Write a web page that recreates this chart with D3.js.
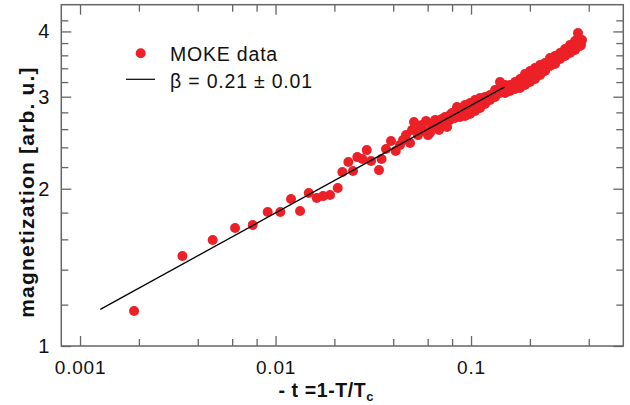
<!DOCTYPE html>
<html>
<head>
<meta charset="utf-8">
<script src="https://cdn.jsdelivr.net/npm/d3@7"></script>
<style>
body { margin: 0; background: #fff; }
text { font-family: "Liberation Sans", Arial, Helvetica, sans-serif; fill: #111; }
</style>
</head>
<body>
<script>
// reduced temperature -t and magnetization
var tData = [
  0.00189, 0.00334, 0.00477, 0.00621, 0.00764, 0.00912, 0.01058, 0.0120, 0.01335, 0.01479,
  0.01625, 0.0175, 0.0190, 0.02081, 0.02197, 0.02358, 0.02491, 0.0262, 0.0278, 0.02928,
  0.0308, 0.03383, 0.03485, 0.03674, 0.03897, 0.04119, 0.04333, 0.04489, 0.0465, 0.04875,
  0.04991, 0.05109, 0.05356, 0.05483, 0.05615, 0.0575, 0.05886, 0.06027, 0.0617, 0.06316,
  0.06392, 0.06546, 0.067, 0.06859, 0.07107, 0.0754, 0.07715, 0.07993, 0.08477,
  // upper edge of the dense band
  0.0694, 0.07362, 0.07808, 0.08283, 0.08784, 0.09318, 0.09883, 0.1048, 0.1112, 0.1179,
  0.1251, 0.1327, 0.1407, 0.1493, 0.1583, 0.1680, 0.1781, 0.1889, 0.2004, 0.2125,
  0.2254, 0.2391, 0.2536, 0.2690, 0.2853, 0.3026, 0.3209, 0.3404, 0.3526,
  // lower edge of the dense band
  0.0694, 0.07362, 0.07808, 0.08283, 0.08784, 0.09318, 0.09883, 0.1048, 0.1112, 0.1179,
  0.1251, 0.1327, 0.1407, 0.1493, 0.1583, 0.1680, 0.1781, 0.1889, 0.2004, 0.2125,
  0.2254, 0.2391, 0.2536, 0.2690, 0.2853, 0.3026, 0.3209, 0.3404, 0.3610,
  // middle of the band
  0.07148, 0.07582, 0.08041, 0.08531, 0.09047, 0.09597, 0.1018, 0.1079, 0.1145, 0.1214,
  0.1288, 0.1367, 0.1449, 0.1538, 0.1630, 0.1730, 0.1834, 0.1945, 0.2064, 0.2189,
  0.2321, 0.2462, 0.2612, 0.2770, 0.2938, 0.3116, 0.3305, 0.3506,
  0.3526, 0.3696, 0.3653
];
var mData = [
  1.167, 1.487, 1.595, 1.682, 1.704, 1.805, 1.805, 1.911, 1.813, 1.962,
  1.920, 1.936, 1.945, 2.006, 2.153, 2.250, 2.162, 2.299, 2.279, 2.371,
  2.260, 2.171, 2.279, 2.382, 2.468, 2.361, 2.424, 2.478, 2.533, 2.446,
  2.590, 2.683, 2.533, 2.613, 2.648, 2.579, 2.695, 2.533, 2.560, 2.625,
  2.671, 2.707, 2.660, 2.590, 2.719, 2.625, 2.731, 2.792, 2.867,
  2.707, 2.743, 2.767, 2.804, 2.854, 2.892, 2.918, 2.956, 2.982, 2.995,
  3.022, 3.090, 3.200, 3.158, 3.158, 3.200, 3.243, 3.316, 3.360, 3.404,
  3.450, 3.481, 3.557, 3.589, 3.637, 3.701, 3.767, 3.834, 3.885,
  2.648, 2.683, 2.707, 2.731, 2.743, 2.755, 2.779, 2.817, 2.854, 2.905,
  2.956, 2.995, 3.049, 3.049, 3.076, 3.104, 3.117, 3.158, 3.200, 3.243,
  3.301, 3.360, 3.436, 3.465, 3.542, 3.589, 3.637, 3.685, 3.751,
  2.69, 2.73, 2.75, 2.78, 2.82, 2.83, 2.87, 2.90, 2.93, 2.97,
  3.02, 3.08, 3.11, 3.10, 3.14, 3.17, 3.21, 3.26, 3.30, 3.35,
  3.40, 3.46, 3.51, 3.56, 3.62, 3.67, 3.73, 3.79,
  3.972, 3.851, 3.767
];

// power law fit, beta = 0.21 (end points)
var fitT = [0.00127, 0.148];
var fitM = [1.175, 3.13];

var xMajor = [0.001, 0.01, 0.1];
var xMinor = [0.002, 0.004, 0.006, 0.008, 0.02, 0.04, 0.06, 0.08, 0.2, 0.4];
var yMajor = [1, 2, 3, 4];
var yMinor = [1.2, 1.4, 1.6, 1.8, 2.2, 2.4, 2.6, 2.8, 3.2, 3.4, 3.6, 3.8, 4.2];
var xTickLabels = ["0.001", "0.01", "0.1"];
var yTickLabels = ["1", "2", "3", "4"];
var legendLabels = ["MOKE data", "\u03B2 = 0.21 \u00B1 0.01"];

var red = "#ec2027";
var frameColor = "#666";

var plotLeft = 61.3, plotRight = 623.3, plotTop = 4.7, plotBottom = 346;

var svg = d3.select("body").append("svg")
  .attr("width", 630)
  .attr("height", 405);

var x = d3.scaleLog().domain([0.000802, 0.601]).range([plotLeft, plotRight]);
var y = d3.scaleLog().domain([1, 4.5]).range([plotBottom, plotTop]);

// ticks point inward on all four sides
function drawAxis(axisFn, scale, values, size, fmt, tx, ty, pad) {
  var g = svg.append("g")
    .attr("transform", "translate(" + tx + "," + ty + ")")
    .call(axisFn(scale).tickValues(values).tickSize(-size).tickPadding(pad)
      .tickFormat(fmt));
  g.select(".domain").remove();
  g.selectAll("line").attr("stroke", frameColor).attr("stroke-width", 1.3);
  return g;
}

var noLabel = function () { return ""; };

var xb = drawAxis(d3.axisBottom, x, xMajor, 10, function (d, i) { return xTickLabels[i]; }, 0, plotBottom, 15);
xb.selectAll("text")
  .style("font-size", "19px")
  .style("letter-spacing", "0.8px")
  .attr("fill", "#111");
drawAxis(d3.axisBottom, x, xMinor, 7, noLabel, 0, plotBottom, 3);
drawAxis(d3.axisTop, x, xMajor, 10, noLabel, 0, plotTop, 3);
drawAxis(d3.axisTop, x, xMinor, 7, noLabel, 0, plotTop, 3);

var yl = drawAxis(d3.axisLeft, y, yMajor, 10, function (d, i) { return yTickLabels[i]; }, plotLeft, 0, 12);
yl.selectAll("text")
  .style("font-size", "20px")
  .attr("fill", "#111");
drawAxis(d3.axisLeft, y, yMinor, 7, noLabel, plotLeft, 0, 3);
drawAxis(d3.axisRight, y, yMajor, 10, noLabel, plotRight, 0, 3);
drawAxis(d3.axisRight, y, yMinor, 7, noLabel, plotRight, 0, 3);

svg.append("rect")
  .attr("x", plotLeft)
  .attr("y", plotTop)
  .attr("width", plotRight - plotLeft)
  .attr("height", plotBottom - plotTop)
  .attr("fill", "none")
  .attr("stroke", frameColor)
  .attr("stroke-width", 1.5);

// data points
var points = tData.map(function (t, i) { return { t: t, m: mData[i] }; });

svg.append("g").selectAll("circle")
  .data(points)
  .enter()
  .append("circle")
  .attr("cx", function (d) { return x(d.t); })
  .attr("cy", function (d) { return y(d.m); })
  .attr("r", 5)
  .attr("fill", red);

// fit line on top of the dots
var fitPts = fitT.map(function (t, i) { return [t, fitM[i]]; });
svg.append("path")
  .datum(fitPts)
  .attr("d", d3.line()
    .x(function (d) { return x(d[0]); })
    .y(function (d) { return y(d[1]); }))
  .attr("fill", "none")
  .attr("stroke", "#000")
  .attr("stroke-width", 1.3);

// legend
svg.append("circle")
  .attr("cx", 140.7)
  .attr("cy", 53.3)
  .attr("r", 5)
  .attr("fill", red);
svg.append("line")
  .attr("x1", 126).attr("x2", 155)
  .attr("y1", 79.3).attr("y2", 79.3)
  .attr("stroke", "#000")
  .attr("stroke-width", 1.2);
svg.selectAll(".leg")
  .data(legendLabels)
  .enter()
  .append("text")
  .attr("class", "leg")
  .attr("x", 170)
  .attr("y", function (d, i) { return 60.5 + i * 27; })
  .style("font-size", "19.5px")
  .style("letter-spacing", "0.8px")
  .text(function (d) { return d; });

// axis titles
svg.append("text")
  .attr("transform", "translate(34,192) rotate(-90)")
  .attr("text-anchor", "middle")
  .style("font-size", "21px")
  .style("font-weight", "bold")
  .style("letter-spacing", "1.2px")
  .text("magnetization [arb. u.]");

var xt = svg.append("text")
  .attr("x", 326)
  .attr("y", 397)
  .attr("text-anchor", "middle")
  .style("font-size", "19.5px")
  .style("font-weight", "bold")
  .style("letter-spacing", "0.6px");
xt.append("tspan").text("- t =1-T/T");
xt.append("tspan")
  .attr("dy", 4)
  .style("font-size", "13px")
  .style("letter-spacing", "0px")
  .text("c");
</script>
</body>
</html>
